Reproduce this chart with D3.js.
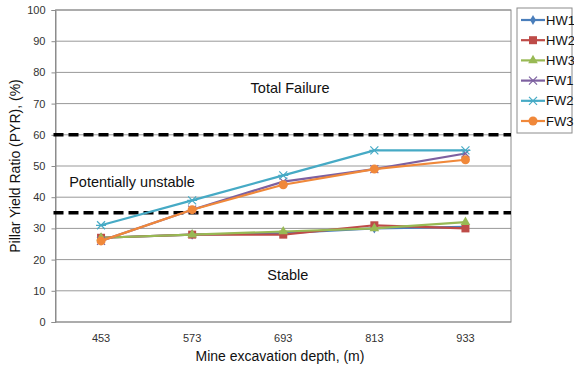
<!DOCTYPE html>
<html>
<head>
<meta charset="utf-8">
<script src="https://cdn.jsdelivr.net/npm/d3@7"></script>
<style>
  body { margin: 0; background: #fff; }
  svg { font-family: "Liberation Sans", Arial, sans-serif; }
</style>
</head>
<body>
<div id="chart"></div>
<script>
// chart data
const depths = ["453", "573", "693", "813", "933"];
const seriesNames = ["HW1", "HW2", "HW3", "FW1", "FW2", "FW3"];
const hw1 = [27, 28, 28.5, 30, 30.5];
const hw2 = [27, 28, 28, 31, 30];
const hw3 = [27, 28, 29, 30, 32];
const fw1 = [26, 36, 45, 49, 54];
const fw2 = [31, 39, 47, 55, 55];
const fw3 = [26, 36, 44, 49, 52];
const yTicks = [0, 10, 20, 30, 40, 50, 60, 70, 80, 90, 100];
const thresholds = [60, 35];
const zoneLabels = [
  { text: "Total Failure", value: 75, pos: 0.515, anchor: "middle" },
  { text: "Potentially unstable", value: 45, pos: 0.03, anchor: "start" },
  { text: "Stable", value: 15, pos: 0.51, anchor: "middle" }
];

const seriesValues = [hw1, hw2, hw3, fw1, fw2, fw3];
const colors = ["#4a7ebb", "#be4b48", "#98b954", "#7d60a0", "#46aac5", "#f0883a"];
const markers = ["diamond", "square", "triangle", "cross", "star", "circle"];

const width = 574, height = 370;
const margin = { top: 10, right: 63, bottom: 48, left: 55.5 };
const innerW = width - margin.left - margin.right;
const innerH = height - margin.top - margin.bottom;

const svg = d3.select("#chart").append("svg")
  .attr("width", width)
  .attr("height", height);

const g = svg.append("g").attr("transform", `translate(${margin.left},${margin.top})`);

const x = d3.scaleBand().domain(depths).range([0, innerW]);
const y = d3.scaleLinear().domain([0, 100]).range([innerH, 0]);

// gridlines
g.selectAll(".grid")
  .data(yTicks)
  .join("line")
  .attr("x1", 0).attr("x2", innerW)
  .attr("y1", d => y(d)).attr("y2", d => y(d))
  .attr("stroke", "#999").attr("stroke-width", 1);

// plot frame
g.append("rect")
  .attr("x", 0).attr("y", 0)
  .attr("width", innerW).attr("height", innerH)
  .attr("fill", "none").attr("stroke", "#8c8c8c");

// y axis
const yAxis = g.append("g")
  .call(d3.axisLeft(y).tickValues(yTicks).tickSize(4).tickPadding(6));
yAxis.select(".domain").attr("stroke", "#8c8c8c");
yAxis.selectAll(".tick line").attr("stroke", "#8c8c8c");
yAxis.selectAll("text").attr("font-size", 11).attr("fill", "#333");

// x axis
const xAxis = g.append("g")
  .attr("transform", `translate(0,${innerH})`)
  .call(d3.axisBottom(x).tickSize(0).tickPadding(12));
xAxis.select(".domain").remove();
xAxis.selectAll("text").attr("font-size", 11).attr("fill", "#333");

// threshold dashed lines
g.selectAll(".thr")
  .data(thresholds)
  .join("line")
  .attr("x1", -2).attr("x2", innerW)
  .attr("y1", d => y(d)).attr("y2", d => y(d))
  .attr("stroke", "#000").attr("stroke-width", 3.5)
  .attr("stroke-dasharray", "10,5");

// zone labels
g.selectAll(".zone")
  .data(zoneLabels)
  .join("text")
  .attr("x", d => d.pos * innerW)
  .attr("y", d => y(d.value))
  .attr("dy", "0.35em")
  .attr("text-anchor", d => d.anchor)
  .attr("font-size", 14.5)
  .attr("fill", "#111")
  .text(d => d.text);

function drawMarker(sel, type, color) {
  if (type === "diamond") {
    sel.append("path").attr("d", d3.symbol(d3.symbolDiamond, 30)()).attr("fill", color);
  } else if (type === "square") {
    sel.append("rect").attr("x", -4).attr("y", -4).attr("width", 8).attr("height", 8).attr("fill", color);
  } else if (type === "triangle") {
    sel.append("path").attr("d", d3.symbol(d3.symbolTriangle, 40)()).attr("fill", color);
  } else if (type === "cross") {
    sel.append("path").attr("d", "M-4,-4L4,4M-4,4L4,-4").attr("stroke", color).attr("stroke-width", 1.2);
  } else if (type === "star") {
    sel.append("path").attr("d", "M-4,-4L4,4M-4,4L4,-4M-5,0L5,0").attr("stroke", color).attr("stroke-width", 1.2);
  } else if (type === "circle") {
    sel.append("circle").attr("r", 4.5).attr("fill", color);
  }
}

const line = d3.line()
  .x((d, i) => x(depths[i]) + x.bandwidth() / 2)
  .y(d => y(d));

seriesValues.forEach((vals, s) => {
  g.append("path")
    .datum(vals)
    .attr("fill", "none")
    .attr("stroke", colors[s])
    .attr("stroke-width", 2.2)
    .attr("d", line);
  vals.forEach((v, i) => {
    const m = g.append("g")
      .attr("transform", `translate(${x(depths[i]) + x.bandwidth() / 2},${y(v)})`);
    drawMarker(m, markers[s], colors[s]);
  });
});

// axis titles
svg.append("text")
  .attr("x", 280)
  .attr("y", 361)
  .attr("text-anchor", "middle")
  .attr("font-size", 14)
  .attr("fill", "#111")
  .text("Mine excavation depth, (m)");

svg.append("text")
  .attr("transform", `translate(20,${margin.top + innerH / 2}) rotate(-90)`)
  .attr("text-anchor", "middle")
  .attr("font-size", 14)
  .attr("fill", "#111")
  .text("Pillar Yield Ratio (PYR), (%)");

// legend
const legend = svg.append("g").attr("transform", "translate(517,8)");
legend.append("rect")
  .attr("x", 0).attr("y", 0)
  .attr("width", 55).attr("height", 125)
  .attr("fill", "#fff").attr("stroke", "#8c8c8c");

seriesNames.forEach((name, s) => {
  const ly = 12 + s * 20.2;
  const item = legend.append("g").attr("transform", `translate(0,${ly})`);
  item.append("line")
    .attr("x1", 4).attr("x2", 28)
    .attr("stroke", colors[s]).attr("stroke-width", 2.2);
  const m = item.append("g").attr("transform", "translate(16,0)");
  drawMarker(m, markers[s], colors[s]);
  item.append("text")
    .attr("x", 29).attr("dy", "0.35em")
    .attr("font-size", 13)
    .attr("fill", "#111")
    .text(name);
});
</script>
</body>
</html>
